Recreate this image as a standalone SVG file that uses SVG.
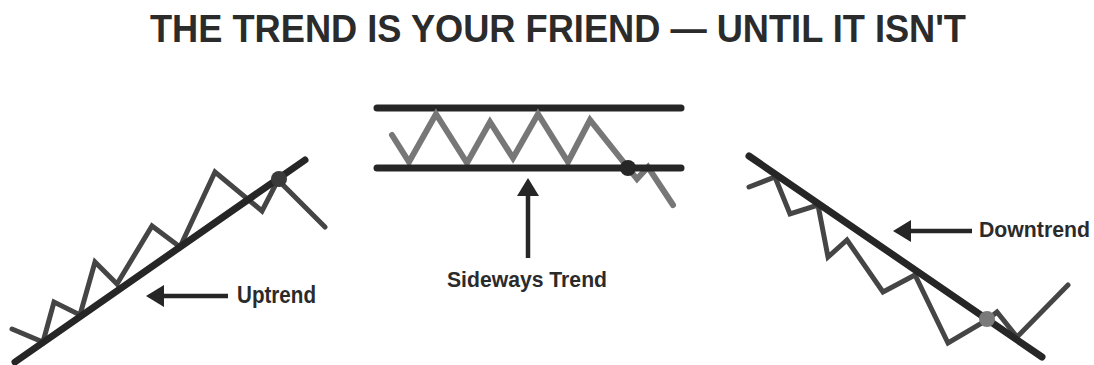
<svg xmlns="http://www.w3.org/2000/svg" width="1094" height="365" viewBox="0 0 1094 365">
<style>
.txt{font-family:"Liberation Sans",Arial,sans-serif;font-weight:bold;fill:#2b2b2b}
.trend{stroke:#262626;stroke-width:7;stroke-linecap:round;fill:none}
.zig{stroke:#454545;stroke-width:5;stroke-linejoin:miter;stroke-linecap:round;fill:none}
.zigl{stroke:#777;stroke-width:6;stroke-linejoin:miter;stroke-linecap:round;fill:none}
.arr{stroke:#262626;stroke-width:4.5;fill:none}
</style>
<defs>
<marker id="ah" markerWidth="18" markerHeight="22" refX="1" refY="11" orient="auto" markerUnits="userSpaceOnUse" viewBox="0 0 18 22">
<path d="M0,0 L18,11 L0,22 Z" fill="#262626"/>
</marker>
</defs>
<rect width="1094" height="365" fill="#fff"/>
<text class="txt" x="150" y="42" font-size="38" textLength="816" lengthAdjust="spacingAndGlyphs">THE TREND IS YOUR FRIEND — UNTIL IT ISN'T</text>

<g id="uptrend">
<polyline class="zig" points="12,329 43,342 54,302 80,315 95,262 117,284 152,226 180,247 215,172 262,211 278,180 325,227"/>
<line class="trend" x1="15" y1="362" x2="305" y2="160"/>
<circle cx="279" cy="179" r="8" fill="#3a3a3a"/>
<text class="txt" x="237" y="303" font-size="23" textLength="79" lengthAdjust="spacingAndGlyphs">Uptrend</text>
</g>

<g id="sideways">
<line class="trend" x1="377" y1="108" x2="681" y2="108"/>
<polyline class="zigl" points="392,135 409,162 436,114 467,163 490,122 513,158 538,114 568,162 590,120 637,179 648,167 673,205"/>
<line class="trend" x1="377" y1="168" x2="681" y2="168"/>
<circle cx="628" cy="168" r="8" fill="#262626"/>
<text class="txt" x="527" y="287" font-size="22" text-anchor="middle" textLength="160" lengthAdjust="spacingAndGlyphs">Sideways Trend</text>
</g>

<g id="downtrend">
<polyline class="zig" points="749,187 775,177 790,214 818,205 828,257 847,240 883,292 915,275 948,343 987,320 997,312 1017,337 1068,285"/>
<line class="trend" x1="749" y1="156" x2="1042" y2="357"/>
<circle cx="987" cy="319" r="8" fill="#7a7a7a"/>
<text class="txt" x="979" y="237" font-size="22" textLength="111" lengthAdjust="spacingAndGlyphs">Downtrend</text>
</g>

<g id="connectors">
<line class="arr" x1="228" y1="296" x2="163" y2="296" marker-end="url(#ah)"/>
<line class="arr" x1="528" y1="258" x2="528" y2="195" marker-end="url(#ah)"/>
<line class="arr" x1="972" y1="231" x2="910" y2="231" marker-end="url(#ah)"/>
</g>
</svg>
